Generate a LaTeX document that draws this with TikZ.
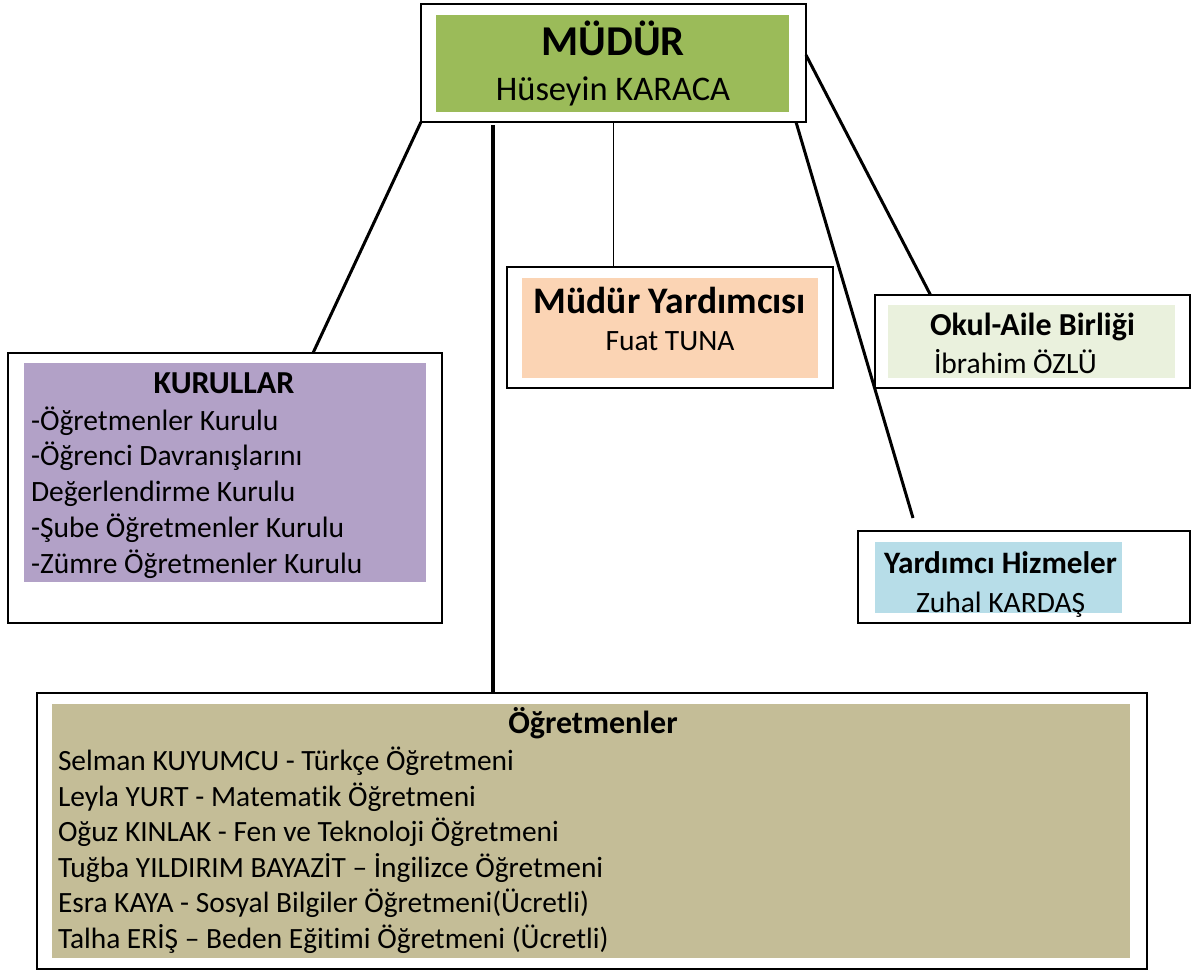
\documentclass[tikz,border=0pt]{standalone}
\usepackage{fontspec}
\setmainfont{Carlito}[Ligatures=NoCommon]
\definecolor{mgreen}{HTML}{9BBB59}
\definecolor{mpeach}{HTML}{FBD4B4}
\definecolor{mpurple}{HTML}{B2A1C7}
\definecolor{mlgreen}{HTML}{EAF1DD}
\definecolor{mblue}{HTML}{B7DDE8}
\definecolor{mtan}{HTML}{C4BD97}
\begin{document}
\begin{tikzpicture}[x=1pt, y=-1pt, line width=2pt,
		frame/.style 2 args = {draw, anchor=north west, inner sep=0pt, outer sep=0pt, minimum width=#1, minimum height=#2},
		panel/.style n args = {3}{fill=#1, anchor=north west, inner sep=0pt, outer sep=0pt, minimum width=#2, minimum height=#3},
		head/.style = {anchor=base, inner sep=0pt, font=\bfseries\fontsize{32}{38}\selectfont},
		person/.style = {anchor=base, inner sep=0pt, font=\fontsize{29.5}{36}\selectfont},
		lines/.style = {anchor=base west, inner sep=0pt, align=left, font=\fontsize{29.5}{35.7}\selectfont}]
			\useasboundingbox (0,0) rectangle (1191,969);
			% boxes
			\node[frame={385pt}{118pt}] (mudur) at (421,4) {};
			\node[panel={mgreen}{353pt}{97pt}] (mudurfill) at (436,15) {};
			\node[head, font=\bfseries\fontsize{42.5}{48}\selectfont] (mudurhead) at (613,55) {MÜDÜR};
			\node[person, font=\fontsize{34.5}{40}\selectfont] (mudurname) at (613,100) {Hüseyin KARACA};
			\node[frame={326pt}{121pt}] (yardimci) at (507,267) {};
			\node[panel={mpeach}{296pt}{100pt}] (yardimcifill) at (522,278) {};
			\node[head, font=\bfseries\fontsize{37.5}{44}\selectfont] (yardimcihead) at (670,313) {Müdür Yardımcısı};
			\node[person] (yardimciname) at (670,350) {Fuat TUNA};
			\node[frame={315pt}{93pt}] (okul) at (875,295) {};
			\node[panel={mlgreen}{287pt}{73pt}] (okulfill) at (888,305) {};
			\node[head, anchor=base west] (okulhead) at (929,335) {Okul-Aile Birliği};
			\node[person, anchor=base west] (okulname) at (933,373) {İbrahim ÖZLÜ};
			\node[frame={332pt}{92pt}] (hizmet) at (858,531) {};
			\node[panel={mblue}{247pt}{71pt}] (hizmetfill) at (875,542) {};
			\node[head, anchor=base west, font=\bfseries\fontsize{31.2}{38}\selectfont] (hizmethead) at (883,573) {Yardımcı Hizmeler};
			\node[person, anchor=base west] (hizmetname) at (915,612) {Zuhal KARDAŞ};
			\node[frame={434pt}{270pt}] (kurullar) at (8,353) {};
			\node[panel={mpurple}{402pt}{219pt}] (kurullarfill) at (24,363) {};
			\node[head] (kurullarhead) at (224,393) {KURULLAR};
			\node[lines] (kurullarlist) at (30,573) {-Öğretmenler Kurulu\\-Öğrenci Davranışlarını\\Değerlendirme Kurulu\\-Şube Öğretmenler Kurulu\\-Zümre Öğretmenler Kurulu};
			\node[frame={1110pt}{276pt}] (ogretmen) at (37,693) {};
			\node[panel={mtan}{1078pt}{254pt}] (ogretmenfill) at (52,704) {};
			\node[head] (ogretmenhead) at (593,733) {Öğretmenler};
			\node[lines, font=\fontsize{29.4}{35.5}\selectfont] (ogretmenlist) at (57,948) {Selman KUYUMCU - Türkçe Öğretmeni\\Leyla YURT - Matematik Öğretmeni\\Oğuz KINLAK - Fen ve Teknoloji Öğretmeni\\Tuğba YILDIRIM BAYAZİT – İngilizce Öğretmeni\\Esra KAYA - Sosyal Bilgiler Öğretmeni(Ücretli)\\Talha ERİŞ – Beden Eğitimi Öğretmeni (Ücretli)};
			\coordinate (hizmetend) at (913,518);
			% connectors
			\path[line width=3pt]
			(mudur.south west) edge ([xshift=88pt]kurullar.north)
			([xshift=-10pt]mudur.south east) edge (hizmetend)
			([yshift=8pt]mudur.east) edge ([xshift=-102pt]okul.north);
			\draw[line width=4pt] ([xshift=72pt,yshift=-3pt]mudur.south west) -- ([xshift=-99pt]ogretmen.north);
			\draw[line width=1.5pt] (mudur.south) -- (mudur.south |- yardimci.north);
		\end{tikzpicture}
\end{document}
